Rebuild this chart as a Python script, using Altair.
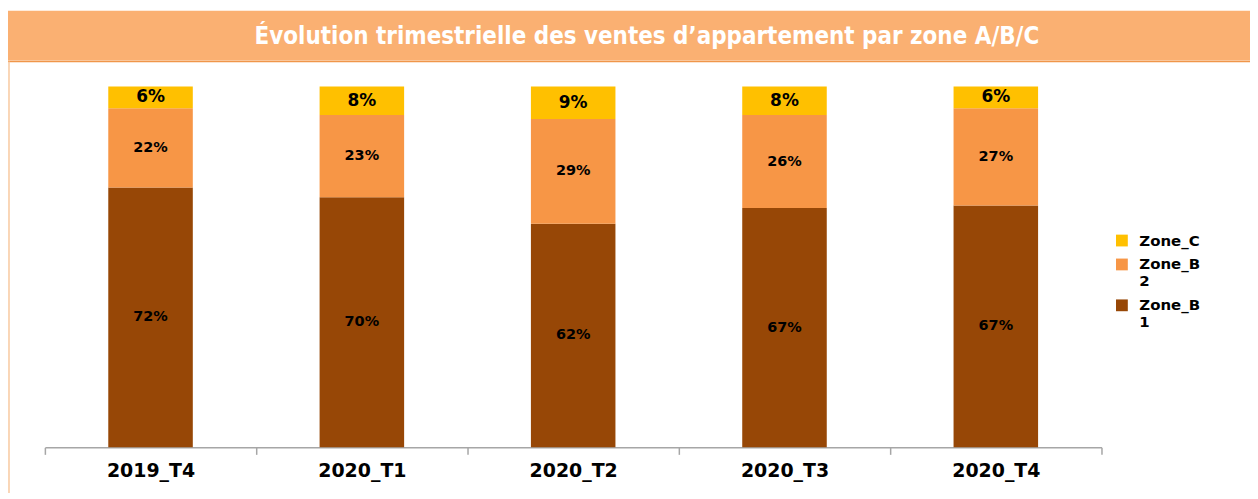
import altair as alt
import pandas as pd

quarters = ["2019_T4", "2020_T1", "2020_T2", "2020_T3", "2020_T4"]
zone_b1 = [72, 70, 62, 67, 67]
zone_b2 = [22, 23, 29, 26, 27]
zone_c = [6, 8, 9, 8, 6]
zones = ["Zone_B1", "Zone_B2", "Zone_C"]
legend_order = ["Zone_C", "Zone_B2", "Zone_B1"]
colors = ["#FFC000", "#F79646", "#974706"]
title_text = "Évolution trimestrielle des ventes d\u2019appartement par zone A/B/C"

rows = []
for i, q in enumerate(quarters):
    for k, (z, vals) in enumerate(zip(zones, [zone_b1, zone_b2, zone_c])):
        rows.append({"quarter": q, "zone": z, "value": vals[i], "order": k})
df = pd.DataFrame(rows)

x_enc = alt.X(
    "quarter:N",
    sort=quarters,
    scale=alt.Scale(paddingInner=0, paddingOuter=0),
    axis=alt.Axis(
        title=None, labelAngle=0, labelFont="DejaVu Sans", labelFontWeight="bold",
        labelFontSize=19, labelColor="#000000", labelPadding=7,
        domainColor="#A6A6A6", domainWidth=1.5, tickColor="#A6A6A6", tickWidth=1.5,
        tickSize=7, tickBand="extent",
    ),
)

base = alt.Chart(df)

bars = base.mark_bar(width=alt.RelativeBandSize(0.4)).encode(
    x=x_enc,
    y=alt.Y("value:Q", stack="normalize", scale=alt.Scale(domain=[0, 1]), axis=None),
    color=alt.Color(
        "zone:N",
        scale=alt.Scale(domain=legend_order, range=colors),
        legend=alt.Legend(
            title=None, orient="none", legendX=1073, legendY=147,
            symbolType="square", symbolSize=140, symbolStrokeWidth=0,
            labelFont="DejaVu Sans", labelFontWeight="bold", labelFontSize=15,
            labelColor="#000000", rowPadding=8, labelOffset=10,
            labelExpr="datum.label == 'Zone_C' ? 'Zone_C' : [substring(datum.label, 0, 6), substring(datum.label, 6)]",
        ),
    ),
    order=alt.Order("order:Q", sort="ascending"),
)

labels = base.transform_joinaggregate(
    total="sum(value)", groupby=["quarter"]
).transform_window(
    cum="sum(value)", sort=[alt.SortField("order")], groupby=["quarter"],
    frame=[None, 0],
).transform_calculate(
    mid="(datum.cum - datum.value / 2) / datum.total",
    lbl="datum.value + '%'",
).mark_text(
    font="DejaVu Sans", fontWeight="bold", color="#000000", baseline="middle"
).encode(
    x=alt.X("quarter:N", sort=quarters),
    y=alt.Y("mid:Q", scale=alt.Scale(domain=[0, 1])),
    text="lbl:N",
    size=alt.condition("datum.zone == 'Zone_C'", alt.value(17), alt.value(14.5)),
)

one = pd.DataFrame({"t": [title_text]})
banner = alt.Chart(one).mark_rect(color="#FAB072").encode(
    x=alt.value(-45), x2=alt.value(1220), y=alt.value(-76), y2=alt.value(-26)
)
banner_line = alt.Chart(one).mark_rule(color="#F0964A", strokeWidth=1.5).encode(
    x=alt.value(-45), x2=alt.value(1220), y=alt.value(-25)
)
left_line = alt.Chart(one).mark_rule(color="#F8C9A0", strokeWidth=1.5).encode(
    x=alt.value(-36), y=alt.value(-25), y2=alt.value(420)
)
banner_text = alt.Chart(one).mark_text(
    font="DejaVu Sans Condensed, DejaVu Sans", fontWeight="bold", fontSize=24, color="#FFFFFF",
    align="center", baseline="middle",
).encode(x=alt.value(604), y=alt.value(-50), text="t:N")

chart = alt.layer(banner, banner_line, left_line, banner_text, bars, labels).properties(
    width=1060, height=362,
    autosize=alt.AutoSizeParams(type="none"),
    padding={"left": 37, "top": 78, "right": 149, "bottom": 45},
).configure_view(stroke=None).configure_axis(grid=False)

chart.save("out.html", embed_options={"renderer": "svg", "actions": False})
